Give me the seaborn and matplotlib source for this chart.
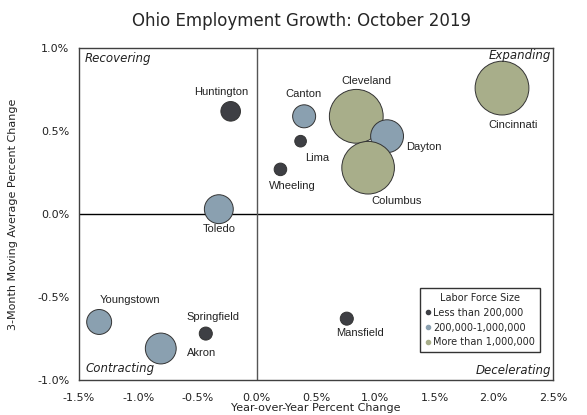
import pandas as pd
import matplotlib.pyplot as plt
import seaborn as sns
from matplotlib.lines import Line2D
from matplotlib.ticker import FuncFormatter

# Ohio metro employment data, October 2019
cities = ['Huntington', 'Canton', 'Lima', 'Wheeling', 'Cleveland', 'Dayton', 'Columbus',
          'Cincinnati', 'Toledo', 'Youngstown', 'Springfield', 'Akron', 'Mansfield']
yoy_change = [-0.22, 0.40, 0.37, 0.20, 0.84, 1.10, 0.94, 2.07, -0.32, -1.33, -0.43, -0.81, 0.76]
mov_avg_change = [0.62, 0.59, 0.44, 0.27, 0.59, 0.47, 0.28, 0.76, 0.03, -0.65, -0.72, -0.81, -0.63]
labor_force = [149000, 207000, 50000, 59000, 1150000, 427000, 1100000,
               1150000, 329000, 244000, 64000, 376000, 64000]
size_groups = ['Less than 200,000', '200,000-1,000,000', 'More than 1,000,000']

df = pd.DataFrame({'city': cities, 'yoy': yoy_change, 'mavg': mov_avg_change, 'labor': labor_force})
df['group'] = pd.cut(df['labor'], [0, 200000, 1000000, 1e9], labels=size_groups)

colors = {'Less than 200,000': '#3e3f44',
          '200,000-1,000,000': '#8aa0b0',
          'More than 1,000,000': '#a8ae8a'}

# label offsets (pixels) relative to each bubble
label_offsets = {'Huntington': (-9, 19), 'Canton': (-1, 22), 'Lima': (17, -17),
                 'Wheeling': (12, -17), 'Cleveland': (10, 35), 'Dayton': (37, -11),
                 'Columbus': (28, -33), 'Cincinnati': (11, -37), 'Toledo': (0, -20),
                 'Youngstown': (31, 22), 'Springfield': (7, 17), 'Akron': (41, -4),
                 'Mansfield': (13, -14)}

sns.set_style('white')
plt.rcParams['font.family'] = ['DejaVu Sans']

fig = plt.figure(figsize=(5.87, 4.15), dpi=100)
ax = fig.add_axes([0.1346, 0.0843, 0.8074, 0.7993])

ax.axhline(0, color='black', lw=1, zorder=1)
ax.axvline(0, color='#555555', lw=1, zorder=1)

sns.scatterplot(data=df, x='yoy', y='mavg', hue='group', palette=colors,
                size='labor', sizes=(70, 1500), size_norm=(50000, 1150000),
                edgecolor='#333333', linewidth=0.7, legend=False, ax=ax, zorder=3)

for _, r in df.iterrows():
    dx, dy = label_offsets[r['city']]
    ax.annotate(r['city'], (r['yoy'], r['mavg']), xytext=(dx, dy), textcoords='offset pixels',
                ha='center', va='center', fontsize=8, family='Liberation Sans', color='#222222',
                zorder=4)

ax.set_xlim(-1.5, 2.5)
ax.set_ylim(-1.0, 1.0)
ax.set_xticks([-1.5, -1.0, -0.5, 0.0, 0.5, 1.0, 1.5, 2.0, 2.5])
ax.set_yticks([-1.0, -0.5, 0.0, 0.5, 1.0])
pct = FuncFormatter(lambda v, p: f'{v:.1f}%')
ax.xaxis.set_major_formatter(pct)
ax.yaxis.set_major_formatter(pct)
ax.tick_params(axis='x', length=0, labelsize=8, pad=9, colors='#222222')
ax.tick_params(axis='y', length=0, labelsize=8, pad=7, colors='#222222')

ax.set_xlabel('Year-over-Year Percent Change', fontsize=8, labelpad=0, color='#222222')
ax.set_ylabel('3-Month Moving Average Percent Change', fontsize=8, labelpad=14, color='#222222')
ax.set_title('Ohio Employment Growth: October 2019', fontsize=12, pad=16, x=0.47)

for s in ax.spines.values():
    s.set_color('#404040')
    s.set_linewidth(1)

qkw = dict(transform=ax.transAxes, fontsize=8.5, style='italic', color='#222222')
ax.text(0.013, 0.97, 'Recovering', ha='left', va='center', **qkw)
ax.text(0.997, 0.978, 'Expanding', ha='right', va='center', **qkw)
ax.text(0.013, 0.036, 'Contracting', ha='left', va='center', **qkw)
ax.text(0.997, 0.03, 'Decelerating', ha='right', va='center', **qkw)

handles = [Line2D([], [], marker='o', ls='', markersize=3, markerfacecolor=colors[g],
                  markeredgecolor=colors[g], label=g) for g in size_groups]
leg = ax.legend(handles=handles, title='Labor Force Size', loc='lower right',
                bbox_to_anchor=(0.983, 0.069), fontsize=7, title_fontsize=7,
                frameon=True, fancybox=False, edgecolor='black', handletextpad=0.1,
                handlelength=0.8, borderpad=0.5, labelspacing=0.5)
leg.get_frame().set_linewidth(1)

plt.savefig('out.png', dpi=100)
